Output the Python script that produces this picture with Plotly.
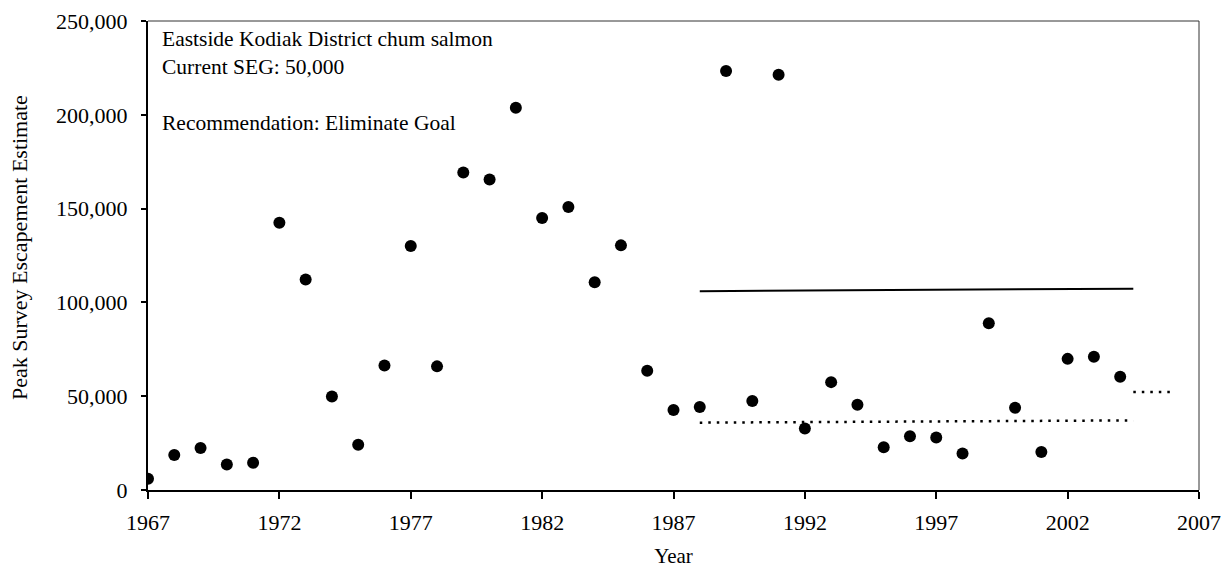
import plotly.graph_objects as go

years = list(range(1967, 2005))
escapement = [6000, 18700, 22400, 13600, 14500, 142400, 112200, 49900, 24100, 66400,
              130100, 65900, 169200, 165500, 203800, 145000, 150800, 110800, 130400, 63600,
              42700, 44300, 223400, 47500, 221300, 32800, 57500, 45500, 22800, 28700,
              28000, 19400, 88900, 43800, 20300, 69900, 71000, 60400]

solid_x = [1988, 2004.5]
solid_y = [106000, 107300]
dot_x = [1988, 2004.5]
dot_y = [35900, 37100]
dot2_x = [2004.5, 2005.9]
dot2_y = [52200, 52200]

x_ticks = list(range(1967, 2008, 5))
y_ticks = [0, 50000, 100000, 150000, 200000, 250000]
y_ticklabels = ["0", "50,000", "100,000", "150,000", "200,000", "250,000"]

note_lines = ["Eastside Kodiak District chum salmon", "Current SEG: 50,000", "",
              "Recommendation: Eliminate Goal"]
y_title = "Peak Survey Escapement Estimate"

FONT = "Liberation Serif, Times New Roman, serif"

fig = go.Figure()
fig.add_trace(go.Scatter(x=solid_x, y=solid_y, mode="lines",
                         line=dict(color="black", width=2), showlegend=False, hoverinfo="skip"))
fig.add_trace(go.Scatter(x=dot_x, y=dot_y, mode="lines",
                         line=dict(color="black", width=2.5, dash="2.5px,6px"), showlegend=False, hoverinfo="skip"))
fig.add_trace(go.Scatter(x=dot2_x, y=dot2_y, mode="lines",
                         line=dict(color="black", width=2.5, dash="2.5px,6px"), showlegend=False, hoverinfo="skip"))
fig.add_trace(go.Scatter(x=years, y=escapement, mode="markers",
                         marker=dict(color="black", size=12, line=dict(width=0)),
                         showlegend=False))

fig.add_annotation(x=0, y=1, xref="paper", yref="paper", xanchor="left", yanchor="top",
                   xshift=12, yshift=-4, showarrow=False, align="left",
                   text="<br>".join(note_lines),
                   font=dict(family=FONT, size=21.5, color="black"))

# y axis title as rotated text
fig.add_annotation(x=0, y=0.516, xref="paper", yref="paper", xanchor="center", yanchor="middle",
                   xshift=-128, showarrow=False, textangle=-90, text=y_title,
                   font=dict(family=FONT, size=22, color="black"))

# thin top/right frame
fig.add_shape(type="line", xref="paper", yref="paper", x0=0, x1=1, y0=1, y1=1,
              line=dict(color="#333", width=1))
fig.add_shape(type="line", xref="paper", yref="paper", x0=1, x1=1, y0=0, y1=1,
              line=dict(color="#333", width=1))

fig.update_layout(
    width=1230, height=570,
    margin=dict(l=140, r=39, t=13, b=88, autoexpand=False),
    paper_bgcolor="white", plot_bgcolor="white",
    font=dict(family=FONT, size=22, color="black"),
    xaxis=dict(range=[1967, 2007], tickmode="array", tickvals=x_ticks,
               ticks="outside", ticklen=7, tickwidth=1.5, tickcolor="black",
               showline=True, linecolor="black", linewidth=2, showgrid=False, zeroline=False,
               automargin=False, ticklabelstandoff=5, ticklabeloverflow="allow",
               title=dict(text="Year", font=dict(family=FONT, size=21), standoff=14),
               tickfont=dict(family=FONT, size=22)),
    yaxis=dict(range=[0, 250000], tickmode="array", tickvals=y_ticks, ticktext=y_ticklabels,
               ticks="outside", ticklen=5, tickwidth=1.5, tickcolor="black",
               showline=True, linecolor="black", linewidth=2, showgrid=False, zeroline=False,
               automargin=False, ticklabelstandoff=9, ticklabeloverflow="allow",
               tickfont=dict(family=FONT, size=22)),
)

fig.write_html("out.html")
